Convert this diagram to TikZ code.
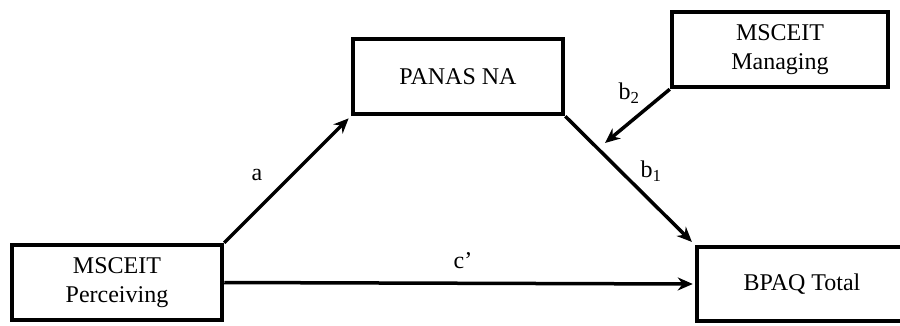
\documentclass[tikz,border=0pt]{standalone}
\usepackage{fontspec}
\setmainfont{Liberation Serif}
\usetikzlibrary{arrows.meta,calc}
\begin{document}
\begin{tikzpicture}[x=1pt,y=-1pt,
  box/.style={draw, line width=4.5pt, fill=white, inner sep=0pt, align=center,
    minimum height=75pt, font=\fontsize{24}{29}\selectfont},
  conn/.style={line width=3.5pt, -{Stealth[length=15pt,width=13pt]}},
  lbl/.style={font=\fontsize{24}{29}\selectfont, inner sep=0pt}]
\useasboundingbox (0,0) rectangle (900,325);
\node[box, minimum width=210pt] (P) at (117,282.5) {MSCEIT\\Perceiving};
\node[box, minimum width=210pt] (N) at (458,76.5) {PANAS NA};
\node[box, minimum width=216pt] (M) at (780,49.5) {MSCEIT\\Managing};
\node[box, minimum width=210pt, minimum height=74pt] (B) at (802,284) {BPAQ Total};
\coordinate (t) at (605,143);
\draw[conn, shorten >=3pt] (P.north east) -- (N.south west);
\draw[conn, shorten >=4pt] (N.south east) -- (B.north west);
\draw[conn, shorten >=2pt] (P.east) -- (B.west);
\draw[conn] (M.south west) -- (t);
\node[lbl] (la) at (257,175) {a};
\node[lbl] (lc) at (463,261) {c’};
\node[lbl] (lb2) at (629,93) {b\textsubscript{2}};
\node[lbl] (lb1) at (651,171) {b\textsubscript{1}};
\end{tikzpicture}
\end{document}
